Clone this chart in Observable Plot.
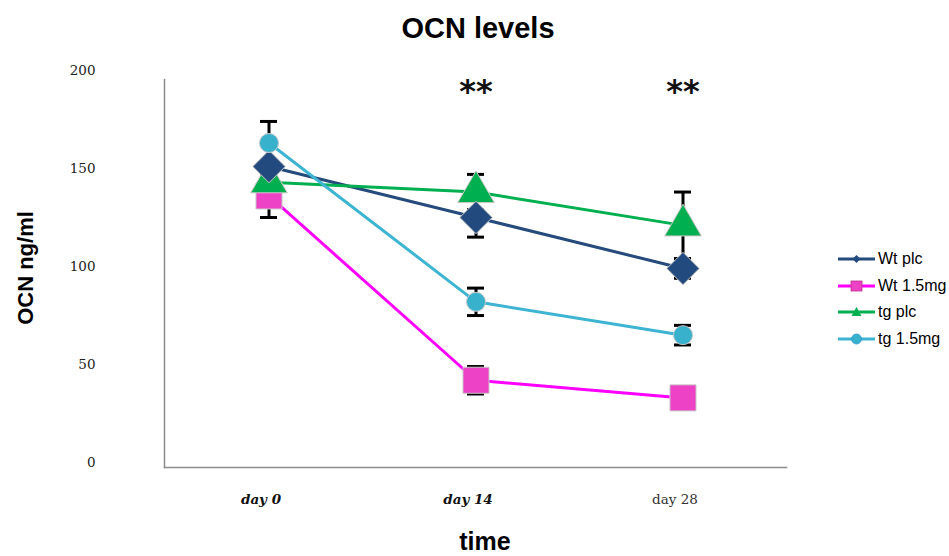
<!DOCTYPE html>
<html>
<head>
<meta charset="utf-8">
<script src="https://cdn.jsdelivr.net/npm/d3@7"></script>
<script src="https://cdn.jsdelivr.net/npm/@observablehq/plot@0.6"></script>
<style>
  body { margin: 0; background: #fff; }
  #chart { position: relative; width: 949px; height: 556px; overflow: hidden; font-family: "Liberation Sans", Arial, sans-serif; }
  #chart svg.plot { position: absolute; left: 0; top: 0; }
  .title { position: absolute; left: 0; width: 956px; top: 12px; text-align: center; font-weight: bold; font-size: 29px; }
  .xlabel { position: absolute; left: 0; width: 970px; top: 527px; text-align: center; font-weight: bold; font-size: 25px; line-height: 28px; }
  .ylabel { position: absolute; left: 26px; top: 268px; transform: translate(-50%, -50%) rotate(-90deg); white-space: nowrap; font-weight: bold; font-size: 22px; }
  .legend { position: absolute; left: 838px; top: 246px; font-size: 16px; }
  .legend .row { display: flex; align-items: center; height: 26.5px; }
  .legend svg { margin-right: 3px; }
</style>
</head>
<body>
<div id="chart"></div>
<script>
// Serum OCN (ng/ml) per group at each time point, mean and error
const days = ["day 0", "day 14", "day 28"];
const boldDays = ["day 0", "day 14"];
const seriesNames = ["Wt plc", "Wt 1.5mg", "tg plc", "tg 1.5mg"];
const wtPlc = [151, 125, 99];
const wtPlcErr = [12, 10, 5];
const wt15 = [136, 42, 33];
const wt15Err = [11, 7, 5];
const tgPlc = [143, 138, 121];
const tgPlcErr = [8, 9, 17];
const tg15 = [163, 82, 65];
const tg15Err = [11, 7, 5];
const yTicks = [0, 50, 100, 150, 200];
const starDays = ["day 14", "day 28"];
const starLevel = 190;

const seriesValues = [wtPlc, wt15, tgPlc, tg15];
const seriesErrors = [wtPlcErr, wt15Err, tgPlcErr, tg15Err];
const lineColors = ["#254a7c", "#ff00ff", "#00b050", "#3cb4d2"];
const markColors = ["#234a7e", "#ee42c6", "#00b050", "#38b2cc"];
const symbols = ["diamond2", "square", "triangle", "circle"];
const markR = [14.6, 14.7, 13.6, 9.5];
// markers stacked: square, then triangle, diamond, circle on top
const markOrder = [1, 2, 0, 3];

const rows = seriesNames.flatMap((s, k) =>
  days.map((d, i) => ({ series: s, k, day: d, value: seriesValues[k][i], err: seriesErrors[k][i] }))
);

const lineMarks = seriesNames.map((s, k) =>
  Plot.line(rows.filter(r => r.k === k), { x: "day", y: "value", stroke: lineColors[k], strokeWidth: 3 })
);
const errorMarks = [
  Plot.ruleX(rows, { x: "day", y1: r => r.value - r.err, y2: r => r.value + r.err, stroke: "#000", strokeWidth: 3 }),
  Plot.tickY(rows, { x: "day", y: r => r.value + r.err, stroke: "#000", strokeWidth: 3, insetLeft: 95, insetRight: 95 }),
  Plot.tickY(rows, { x: "day", y: r => r.value - r.err, stroke: "#000", strokeWidth: 3, insetLeft: 95, insetRight: 95 })
];
const dotMarks = markOrder.map(k =>
  Plot.dot(rows.filter(r => r.k === k), {
    x: "day", y: "value", symbol: symbols[k], r: markR[k],
    fill: markColors[k], stroke: "#c8c8c8", strokeWidth: 1
  })
);

const plot = Plot.plot({
  width: 949,
  height: 556,
  marginLeft: 164,
  marginRight: 163,
  marginTop: 79,
  marginBottom: 89,
  x: { type: "band", domain: days, padding: 0 },
  y: { domain: [-2.5, 195.4] },
  style: { background: "transparent", color: "#000" },
  marks: [
    Plot.frame({ anchor: "left", stroke: "#8c8c8c", strokeWidth: 1.5 }),
    Plot.frame({ anchor: "bottom", stroke: "#8c8c8c", strokeWidth: 1.5 }),
    Plot.axisY({
      ticks: yTicks, tickSize: 0, tickPadding: 69, label: null,
      fontFamily: "DejaVu Serif", fontSize: 13.5, fill: "#222"
    }),
    Plot.axisX({ ticks: [], label: null }),
    Plot.text(boldDays, {
      x: d => d, frameAnchor: "bottom", dy: 36, dx: -8,
      text: d => d, fontFamily: "DejaVu Serif", fontSize: 13.5, fontWeight: "bold", fontStyle: "italic", fill: "#111"
    }),
    Plot.text(days.filter(d => !boldDays.includes(d)), {
      x: d => d, frameAnchor: "bottom", dy: 36, dx: -8,
      text: d => d, fontFamily: "DejaVu Serif", fontSize: 13.5, fill: "#333"
    }),
    ...lineMarks,
    ...errorMarks,
    ...dotMarks,
    Plot.text(starDays, {
      x: d => d, y: starLevel, dy: 2, text: () => "**",
      fontFamily: "DejaVu Sans", fontWeight: "bold", fontSize: 32, fill: "#111"
    })
  ]
});
plot.classList.add("plot");

const chart = document.getElementById("chart");
chart.appendChild(plot);

const title = document.createElement("div");
title.className = "title";
title.textContent = "OCN levels";
chart.appendChild(title);

const ylab = document.createElement("div");
ylab.className = "ylabel";
ylab.textContent = "OCN ng/ml";
chart.appendChild(ylab);

const xlab = document.createElement("div");
xlab.className = "xlabel";
xlab.textContent = "time";
chart.appendChild(xlab);

// legend: line swatch with a small marker per series
const legend = document.createElement("div");
legend.className = "legend";
const legendMarker = [
  c => `<path d="M18.5,-4 L22.5,0 L18.5,4 L14.5,0Z" fill="${c}"/>`,
  c => `<rect x="13" y="-5" width="11" height="10" fill="${c}" stroke="#c0308c" stroke-width="0.8"/>`,
  c => `<path d="M18.5,-5 L23.5,4 L13.5,4Z" fill="${c}"/>`,
  c => `<circle cx="18.5" cy="0" r="5" fill="${c}" stroke="#2a9ad0" stroke-width="0.8"/>`
];
seriesNames.forEach((s, k) => {
  const row = document.createElement("div");
  row.className = "row";
  row.innerHTML = `<svg width="37" height="14" viewBox="0 -7 37 14">
      <line x1="0" y1="0" x2="37" y2="0" stroke="${lineColors[k]}" stroke-width="3"/>
      ${legendMarker[k](markColors[k])}
    </svg><span>${s}</span>`;
  legend.appendChild(row);
});
chart.appendChild(legend);
</script>
</body>
</html>
